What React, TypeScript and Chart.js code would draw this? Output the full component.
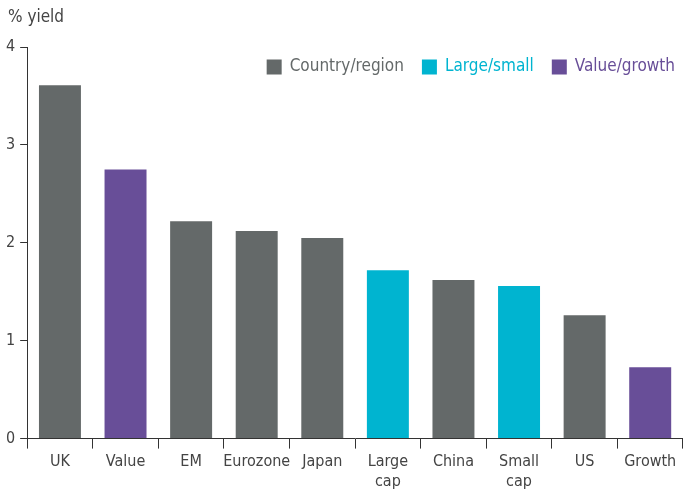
import React, { useEffect, useRef } from "react";
import { Chart, registerables } from "chart.js";

Chart.register(...registerables);

const categories: (string | string[])[] = ["UK", "Value", "EM", "Eurozone", "Japan", ["Large", "cap"], "China", ["Small", "cap"], "US", "Growth"];
const yields = [3.61, 2.75, 2.22, 2.12, 2.05, 1.72, 1.62, 1.56, 1.26, 0.73];
const groups = ["country", "style", "country", "country", "country", "size", "country", "size", "country", "style"];
const groupNames = ["Country/region", "Large/small", "Value/growth"];
const groupKeys = ["country", "size", "style"];
const groupColors: Record<string, string> = { country: "#646969", size: "#00B4D0", style: "#684E98" };
const yTicks = [0, 1, 2, 3, 4];
const axisTitle = "% yield";

const FONT = "'Liberation Sans Narrow', 'DejaVu Sans Condensed', 'Open Sans', sans-serif";

const inlineLegend = {
  id: "inlineLegend",
  afterDraw(chart: any) {
    const { ctx, chartArea } = chart;
    ctx.save();
    ctx.textBaseline = "middle";
    ctx.textAlign = "left";
    ctx.font = `17px ${FONT}`;
    ctx.fillStyle = "#444";
    ctx.fillText(axisTitle, 8, 18);
    const box = 15;
    const gapText = 8;
    const gapItem = 18;
    const cy = chartArea.top + 20;
    let right = chartArea.right - 8;
    for (let i = groupKeys.length - 1; i >= 0; i--) {
      const color = groupColors[groupKeys[i]];
      const w = ctx.measureText(groupNames[i]).width;
      const tx = right - w;
      ctx.fillStyle = color;
      ctx.fillText(groupNames[i], tx, cy);
      const bx = tx - gapText - box;
      ctx.fillRect(bx, cy - box / 2, box, box);
      right = bx - gapItem;
    }
    ctx.restore();
  },
};

export default function App() {
  const ref = useRef<HTMLCanvasElement>(null);
  useEffect(() => {
    if (!ref.current) return;
    const chart = new Chart(ref.current, {
      type: "bar",
      data: {
        labels: categories,
        datasets: [
          {
            data: yields,
            backgroundColor: groups.map((g) => groupColors[g]),
            barPercentage: 0.64,
            categoryPercentage: 1,
          },
        ],
      },
      plugins: [inlineLegend],
      options: {
        animation: false,
        responsive: false,
        maintainAspectRatio: false,
        layout: { padding: { left: 1, right: 0, top: 47, bottom: 0 } },
        plugins: {
          tooltip: { enabled: false },
          legend: { display: false },
          title: { display: false },
        },
        scales: {
          x: {
            grid: {
              offset: true,
              drawOnChartArea: false,
              drawTicks: true,
              tickLength: 10,
              color: "#333",
            },
            border: { display: true, color: "#333", width: 1 },
            ticks: {
              color: "#444",
              padding: 4,
              font: { family: FONT, size: 16 },
              maxRotation: 0,
              autoSkip: false,
            },
          },
          y: {
            min: 0,
            max: 4,
            afterBuildTicks: (axis: any) => {
              axis.ticks = yTicks.map((v) => ({ value: v }));
            },
            grid: {
              drawOnChartArea: false,
              drawTicks: true,
              tickLength: 7,
              color: "#333",
            },
            border: { display: true, color: "#333", width: 1 },
            ticks: {
              color: "#444",
              padding: 5,
              font: { family: FONT, size: 16 },
            },
          },
        },
      },
    });
    return () => chart.destroy();
  }, []);
  return (
    <div style={{ position: "absolute", left: 0, top: 0, width: 683, height: 495, background: "#fff" }}>
      <canvas ref={ref} width={683} height={495} style={{ width: 683, height: 495 }} />
    </div>
  );
}
